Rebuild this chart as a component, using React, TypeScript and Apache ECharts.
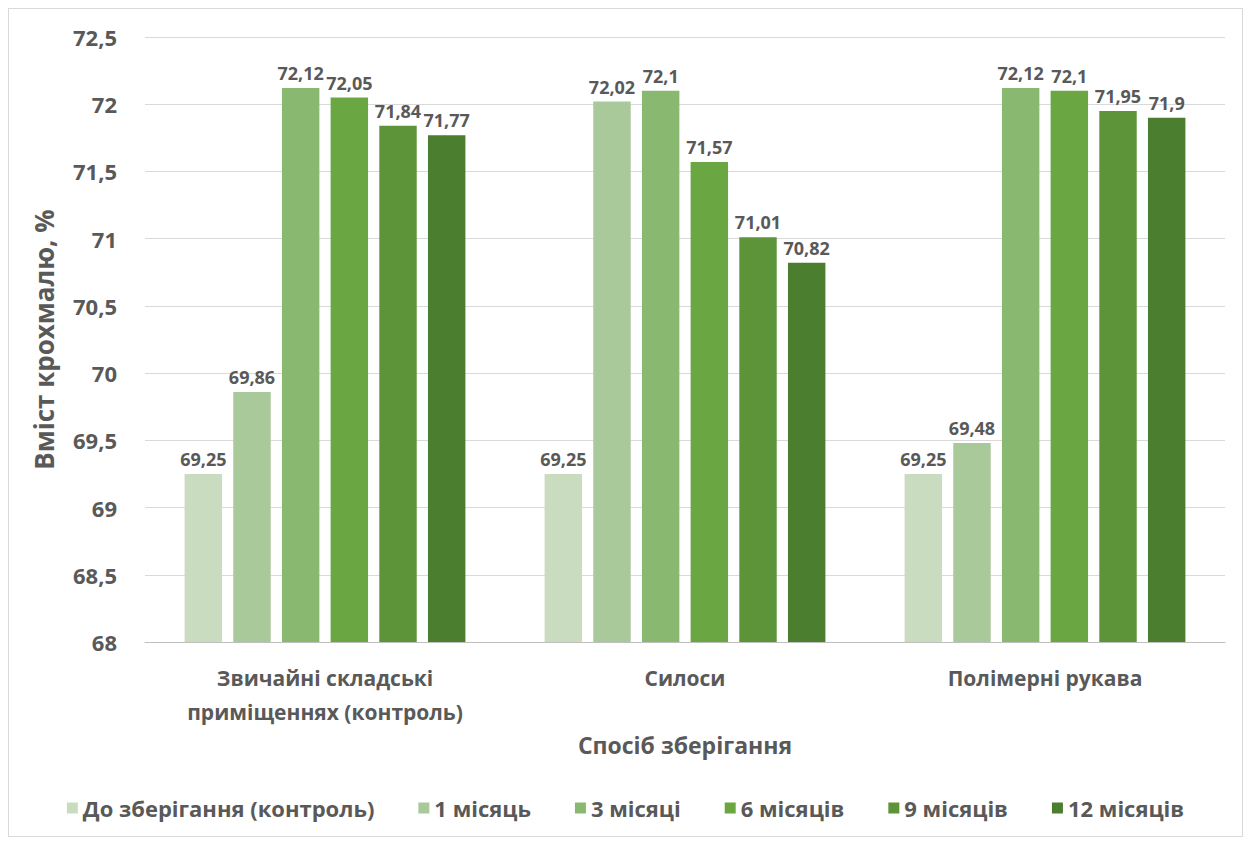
import React, { useEffect, useRef } from "react";
import * as echarts from "echarts";

const categories = ["Звичайні складські\nприміщеннях (контроль)", "Силоси", "Полімерні рукава"];
const seriesNames = ["До зберігання (контроль)", "1 місяць", "3 місяці", "6 місяців", "9 місяців", "12 місяців"];
const s0 = [69.25, 69.25, 69.25];
const s1 = [69.86, 72.02, 69.48];
const s2 = [72.12, 72.1, 72.12];
const s3 = [72.05, 71.57, 72.1];
const s4 = [71.84, 71.01, 71.95];
const s5 = [71.77, 70.82, 71.9];
const seriesValues = [s0, s1, s2, s3, s4, s5];
const colors = ["#c9dcbf", "#a9c99b", "#89b971", "#6aa743", "#5d9439", "#4c7e30"];
const yMin = 68;
const yMax = 72.5;
const yStep = 0.5;
const yName = "Вміст крохмалю, %";
const xName = "Спосіб зберігання";

const fmt = (v: number) => String(v).replace(".", ",");
const textColor = "#595959";
const font = "'Open Sans', 'Noto Sans', sans-serif";

export default function App() {
  const ref = useRef<HTMLDivElement>(null);
  useEffect(() => {
    if (!ref.current) return;
    const chart = echarts.init(ref.current, null, { renderer: "svg" });
    chart.setOption({
      animation: false,
      textStyle: { fontFamily: font },
      grid: { left: 136, right: 17, top: 28, bottom: 194 },
      legend: {
        top: 783,
        left: "center",
        icon: "rect",
        itemWidth: 11,
        itemHeight: 11,
        itemGap: 44,
        textStyle: {
          fontFamily: font,
          fontWeight: "bold",
          fontSize: 22,
          color: textColor,
        },
        data: seriesNames,
      },
      xAxis: {
        type: "category",
        data: categories,
        name: xName,
        nameLocation: "middle",
        nameGap: 86,
        nameTextStyle: { fontSize: 23, fontWeight: "bold", color: textColor, fontFamily: font },
        axisTick: { show: false },
        axisLine: { lineStyle: { color: "#bfbfbf", width: 1 } },
        axisLabel: {
          fontSize: 21,
          fontWeight: "bold",
          color: textColor,
          margin: 19,
          lineHeight: 34,
          interval: 0,
        },
      },
      yAxis: {
        type: "value",
        min: yMin,
        max: yMax,
        interval: yStep,
        name: yName,
        nameLocation: "middle",
        nameGap: 88,
        nameRotate: 90,
        nameTextStyle: { fontSize: 26, fontWeight: "bold", color: textColor, fontFamily: font },
        axisLine: { show: false },
        axisTick: { show: false },
        splitLine: { lineStyle: { color: "#d9d9d9", width: 1 } },
        axisLabel: {
          fontSize: 22,
          fontWeight: "bold",
          color: textColor,
          margin: 28,
          formatter: (v: number) => fmt(v),
        },
      },
      series: seriesValues.map((vals, i) => ({
        name: seriesNames[i],
        type: "bar",
        data: vals,
        barGap: "30%",
        barCategoryGap: "22%",
        itemStyle: { color: colors[i] },
        label: {
          show: true,
          position: "top",
          distance: 6,
          fontSize: 18,
          fontWeight: "bold",
          color: textColor,
          formatter: (p: any) => fmt(p.value),
        },
      })),
    });
    return () => chart.dispose();
  }, []);
  return (
    <div style={{ width: 1235, height: 829, border: "1px solid #d9d9d9", boxSizing: "border-box", background: "#fff" }}>
      <div ref={ref} style={{ width: 1233, height: 827 }} />
    </div>
  );
}
